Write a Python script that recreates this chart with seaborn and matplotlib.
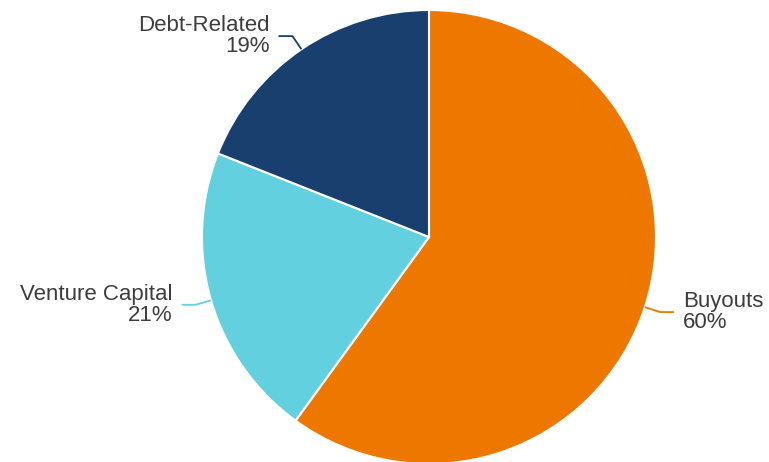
import numpy as np
import matplotlib
matplotlib.use("Agg")
import matplotlib.pyplot as plt
import seaborn as sns

sns.set_theme(style="white")
plt.rcParams['font.family'] = ['Liberation Sans', 'DejaVu Sans']

labels = ["Buyouts", "Venture Capital", "Debt-Related"]
shares = [60, 21, 19]
colors = ["#EE7700", "#62D0DF", "#183F6E"]

W, H = 769, 462
cx, cy, R = 429, 225, 227

fig = plt.figure(figsize=(W / 100, H / 100), dpi=100)
ax = fig.add_axes([0, 0, 1, 1])

wedges, _ = ax.pie(shares, colors=colors, startangle=90, counterclock=False,
                   center=(cx, cy), radius=R, frame=True,
                   wedgeprops=dict(edgecolor="white", linewidth=1.5))
ax.set_xlim(0, W)
ax.set_ylim(0, H)
ax.set_aspect("auto")
ax.axis("off")

for w, lab, val, col in zip(wedges, labels, shares, colors):
    mid = np.deg2rad((w.theta1 + w.theta2) / 2)
    x0, y0 = cx + R * np.cos(mid), cy + R * np.sin(mid)
    x1, y1 = cx + R * 1.07 * np.cos(mid), cy + R * 1.07 * np.sin(mid)
    side = 1 if np.cos(mid) > 0 else -1
    x2 = x1 + side * 14
    ax.plot([x0, x1, x2], [y0, y1, y1], color=col, lw=1.3, solid_capstyle="butt")
    ax.text(x2 + side * 9, y1, f"{lab}\n{val}%",
            ha="left" if side > 0 else "right", va="center",
            multialignment="left" if side > 0 else "right",
            fontsize=16, color="#3d3d3d", linespacing=1.0)

fig.savefig("out.png", dpi=100)
